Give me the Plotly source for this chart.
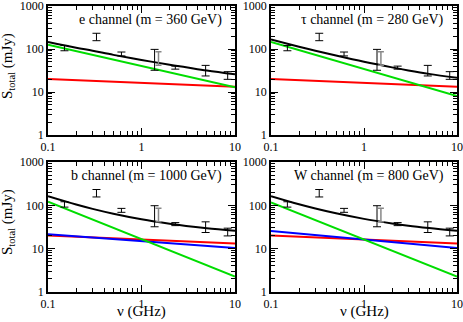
import plotly.graph_objects as go

# observed flux points (GHz, mJy)
obs_freq = [0.15, 0.33, 0.61, 1.38, 2.3, 4.85, 8.35]
obs_flux = [106, 194, 77, 65, 37, 32.6, 24.7]
obs_err = [15, 38, 8, 33, 3, 9, 5]
# second measurement near 1.4 GHz (grey)
obs2_freq = [1.52]
obs2_flux = [64]
obs2_err = [22]

# model curves
line_freq = [0.1, 10]
curve_freq = [0.1, 0.2, 0.3, 0.5, 1, 2, 3, 5, 10]

red_flux = [20, 13.2]  # same in every panel

e_green = [125, 12.9]
e_black = [145, 107, 91, 73, 55.6, 43, 37.6, 31.6, 25.7]

tau_green = [146, 8.1]
tau_black = [166, 113, 91.2, 70.4, 50.5, 37.4, 31.8, 26.4, 21.3]

b_green = [121, 2.28]
b_blue = [21.5, 10.3]
b_black = [162.5, 104.4, 82.9, 64, 47.6, 37.5, 33.4, 29.6, 25.8]

w_green = [117, 2.28]
w_blue = [25.5, 10.3]
w_black = [162.5, 105.6, 84.3, 65.4, 48.7, 38.3, 33.9, 29.9, 25.8]

panels = [
    ("e channel (m = 360 GeV)", e_green, None, e_black),
    ("\u03c4 channel (m = 280 GeV)", tau_green, None, tau_black),
    ("b channel (m = 1000 GeV)", b_green, b_blue, b_black),
    ("W channel (m = 800 GeV)", w_green, w_blue, w_black),
]

W, H = 463, 322
x_doms = [[48 / W, 235 / W], [271 / W, 457 / W]]
y_doms = [[1 - 135 / H, 1 - 6 / H], [1 - 292 / H, 1 - 162 / H]]

FONT = "Liberation Serif"
fig = go.Figure()

for i, (label, green, blue, black) in enumerate(panels):
    n = i + 1
    xa = "x" if n == 1 else f"x{n}"
    ya = "y" if n == 1 else f"y{n}"

    fig.add_trace(go.Scatter(x=line_freq, y=red_flux, mode="lines",
                             line=dict(color="#ff0000", width=2),
                             xaxis=xa, yaxis=ya, showlegend=False))
    if blue is not None:
        fig.add_trace(go.Scatter(x=line_freq, y=blue, mode="lines",
                                 line=dict(color="#0000ff", width=2),
                                 xaxis=xa, yaxis=ya, showlegend=False))
    fig.add_trace(go.Scatter(x=line_freq, y=green, mode="lines",
                             line=dict(color="#00dd00", width=2),
                             xaxis=xa, yaxis=ya, showlegend=False))
    fig.add_trace(go.Scatter(x=curve_freq, y=black, mode="lines",
                             line=dict(color="black", width=2, shape="spline"),
                             xaxis=xa, yaxis=ya, showlegend=False))
    fig.add_trace(go.Scatter(x=obs2_freq, y=obs2_flux, mode="markers",
                             marker=dict(size=1, opacity=0),
                             error_y=dict(type="data", array=obs2_err, color="#888888",
                                          thickness=1.5, width=3),
                             xaxis=xa, yaxis=ya, showlegend=False))
    fig.add_trace(go.Scatter(x=obs_freq, y=obs_flux, mode="markers",
                             marker=dict(size=1, opacity=0),
                             error_y=dict(type="data", array=obs_err, color="black",
                                          thickness=1, width=4),
                             xaxis=xa, yaxis=ya, showlegend=False))

    col = i % 2
    row = i // 2
    axis_common = dict(
        type="log", showline=True, linecolor="black", linewidth=1.5,
        mirror="allticks", ticks="inside", ticklen=7, tickwidth=1,
        tickcolor="black", showgrid=False, zeroline=False, automargin=False,
        ticklabeloverflow="allow",
        tickfont=dict(family=FONT, size=12, color="black"),
        minor=dict(ticks="inside", ticklen=4, tickwidth=1, tickcolor="black",
                   dtick="D1", showgrid=False),
    )
    xkey = "xaxis" if n == 1 else f"xaxis{n}"
    ykey = "yaxis" if n == 1 else f"yaxis{n}"
    fig.layout[xkey] = dict(axis_common, domain=x_doms[col], range=[-1, 1],
                            anchor=ya, tickvals=[0.1, 1, 10],
                            ticktext=["0.1", "1", "10"])
    fig.layout[ykey] = dict(axis_common, domain=y_doms[row], range=[0, 3],
                            anchor=xa, tickvals=[1, 10, 100, 1000],
                            ticktext=["1", "10", "100", "1000"])
    if col == 0:
        fig.add_annotation(x=8 / W, y=1 - (66 + 156 * row) / H, xref="paper",
                           yref="paper", text="S<sub>total</sub> (mJy)",
                           textangle=-90, showarrow=False,
                           xanchor="center", yanchor="middle",
                           font=dict(family=FONT, size=15, color="black"))
    if row == 1:
        fig.add_annotation(x=sum(x_doms[col]) / 2, y=1 - 311 / H, xref="paper",
                           yref="paper", text="\u03bd (GHz)", showarrow=False,
                           xanchor="center", yanchor="middle",
                           font=dict(family=FONT, size=15, color="black"))

    fig.add_annotation(x=0.94, y=0.89, xref=f"{xa} domain",
                       yref=f"{ya} domain", text=label, showarrow=False,
                       xanchor="right", yanchor="middle",
                       font=dict(family=FONT, size=14, color="black"))

fig.update_layout(
    width=W, height=H,
    margin=dict(l=0, r=0, t=0, b=0),
    plot_bgcolor="white", paper_bgcolor="white",
)

# drop the default page margin so the figure sits at the window's corner
fig.write_html("out.html", config={"displayModeBar": False},
               post_script="document.body.style.margin = '0';")
